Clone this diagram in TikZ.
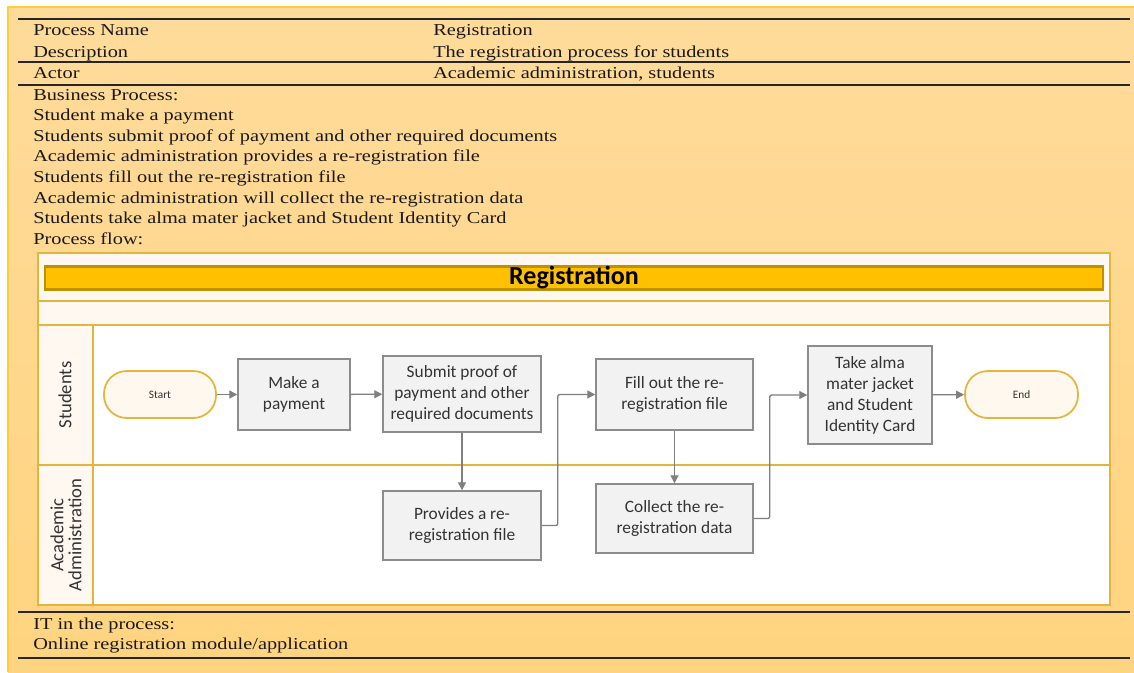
\documentclass[tikz,border=0pt]{standalone}
\usepackage{fontspec}
\setmainfont{Liberation Serif}
\newfontfamily\docfont[FakeStretch=1.22]{Liberation Serif}
\newfontfamily\calfont{Carlito}
\usetikzlibrary{arrows.meta}
\definecolor{bgtop}{HTML}{FFDB9B}
\definecolor{bgbot}{HTML}{FFD480}
\definecolor{frameyellow}{HTML}{FFCF3A}
\definecolor{lanegold}{HTML}{E3B53C}
\definecolor{lanelight}{HTML}{FFF8F0}
\definecolor{titlefill}{HTML}{FFC000}
\definecolor{titledraw}{HTML}{BF9000}
\definecolor{boxfill}{HTML}{F2F2F2}
\definecolor{boxdraw}{HTML}{8C8C8C}
\definecolor{arrowgray}{HTML}{7F7F7F}
\definecolor{boxtext}{HTML}{333333}
\definecolor{termfill}{HTML}{FFF8EE}
\begin{document}
\begin{tikzpicture}[x=0.75pt,y=-0.75pt,
  doctext/.style={anchor=base west,inner sep=0pt,text=black!90,font=\docfont\fontsize{12.5}{15}\selectfont},
  rule/.style={draw=black!85,line width=1.1pt},
  lanegrid/.style={draw=lanegold,line width=1.4pt},
  procbox/.style={draw=boxdraw,fill=boxfill,line width=1.1pt,align=center,inner sep=2pt,text=boxtext,font=\calfont\fontsize{13}{15.75}\selectfont},
  terminal/.style={draw=lanegold,fill=termfill,line width=1.3pt,rounded corners=17pt,inner sep=0pt,text=boxtext,font=\calfont\fontsize{8.5}{10}\selectfont},
  flow/.style={draw=arrowgray,line width=1pt,rounded corners=1.5pt,-{Triangle[length=6pt,width=6pt]}},
  lanelabel/.style={rotate=90,align=center,inner sep=0pt,text=boxtext,font=\calfont\fontsize{14}{13.5}\selectfont}
]
\useasboundingbox (0,0) rectangle (1134,672);
\fill[white] (0,0) rectangle (1134,672);
\fill[top color=bgtop,bottom color=bgbot] (8,7) rectangle (1134,672);
\draw[frameyellow,line width=1.4pt] (8,672) -- (8,7) -- (1134,7);

% table rules
\draw[rule] (18,19) -- (1130,19);
\draw[rule] (18,62) -- (1130,62);
\draw[rule] (18,85) -- (1130,85);
\draw[rule] (18,612) -- (1130,612);
\draw[rule] (18,658) -- (1130,658);

% header texts
\node[doctext] (pname) at (33,35) {Process Name};
\node[doctext] (pnamev) at (433,35) {Registration};
\node[doctext] (desc) at (33,57) {Description};
\node[doctext] (descv) at (433,57) {The registration process for students};
\node[doctext] (actor) at (33,78) {Actor};
\node[doctext] (actorv) at (433,78) {Academic administration, students};
\node[doctext] (bp) at (33,100) {Business Process:};
\node[doctext] (bp1) at (33,120.6) {Student make a payment};
\node[doctext] (bp2) at (33,141.2) {Students submit proof of payment and other required documents};
\node[doctext] (bp3) at (33,161.8) {Academic administration provides a re-registration file};
\node[doctext] (bp4) at (33,182.4) {Students fill out the re-registration file};
\node[doctext] (bp5) at (33,203) {Academic administration will collect the re-registration data};
\node[doctext] (bp6) at (33,223.6) {Students take alma mater jacket and Student Identity Card};
\node[doctext] (pf) at (33,244.2) {Process flow:};
\node[doctext] (it) at (33,629) {IT in the process:};
\node[doctext] (itv) at (33,649) {Online registration module/application};

% pool
\filldraw[lanegrid,fill=lanelight] (38,253) rectangle (1110,605);
\fill[white] (93,325) rectangle (1110,605);
\draw[lanegrid] (38,301) -- (1110,301);
\draw[lanegrid] (38,325) -- (1110,325);
\draw[lanegrid] (38,465) -- (1110,465);
\draw[lanegrid] (93,325) -- (93,605);
\draw[lanegrid] (38,253) rectangle (1110,605);
\node[draw=titledraw,fill=titlefill,line width=2pt,minimum width={1058*0.75pt},minimum height={23*0.75pt},inner sep=0pt,font=\calfont\bfseries\fontsize{19.5}{21}\selectfont] (title) at (574,278) {Registration};

% lane labels
\node[lanelabel] (lstud) at (65,395) {Students};
\node[lanelabel] (ladm) at (66,535) {Academic\\Administration};

% nodes
\node[terminal,minimum width={112*0.75pt},minimum height={47*0.75pt}] (start) at (160,394.5) {Start};
\node[procbox,minimum width={112*0.75pt},minimum height={71*0.75pt}] (pay) at (294,394.5) {Make a\\payment};
\node[procbox,minimum width={158*0.75pt},minimum height={76*0.75pt}] (submit) at (462,394) {Submit proof of\\payment and other\\required documents};
\node[procbox,minimum width={157*0.75pt},minimum height={71*0.75pt}] (fill) at (674.5,394.5) {Fill out the re-\\registration file};
\node[procbox,minimum width={124*0.75pt},minimum height={98*0.75pt}] (take) at (870,395) {Take alma\\mater jacket\\and Student\\Identity Card};
\node[terminal,minimum width={113*0.75pt},minimum height={47*0.75pt}] (end) at (1021.5,394.5) {End};
\node[procbox,minimum width={158*0.75pt},minimum height={69*0.75pt}] (prov) at (462,525.5) {Provides a re-\\registration file};
\node[procbox,minimum width={157*0.75pt},minimum height={69*0.75pt}] (coll) at (674.5,518.5) {Collect the re-\\registration data};

% connectors
\draw[flow] (start) -- (pay);
\draw[flow] (pay) -- (submit);
\draw[flow] (submit) -- (prov);
\draw[flow] (prov.east) -- ++(16,0) |- (fill.west);
\draw[flow] (fill) -- (coll);
\draw[flow] (coll.east) -- ++(16,0) |- (take.west);
\draw[flow] (take) -- (end);
\end{tikzpicture}
\end{document}
